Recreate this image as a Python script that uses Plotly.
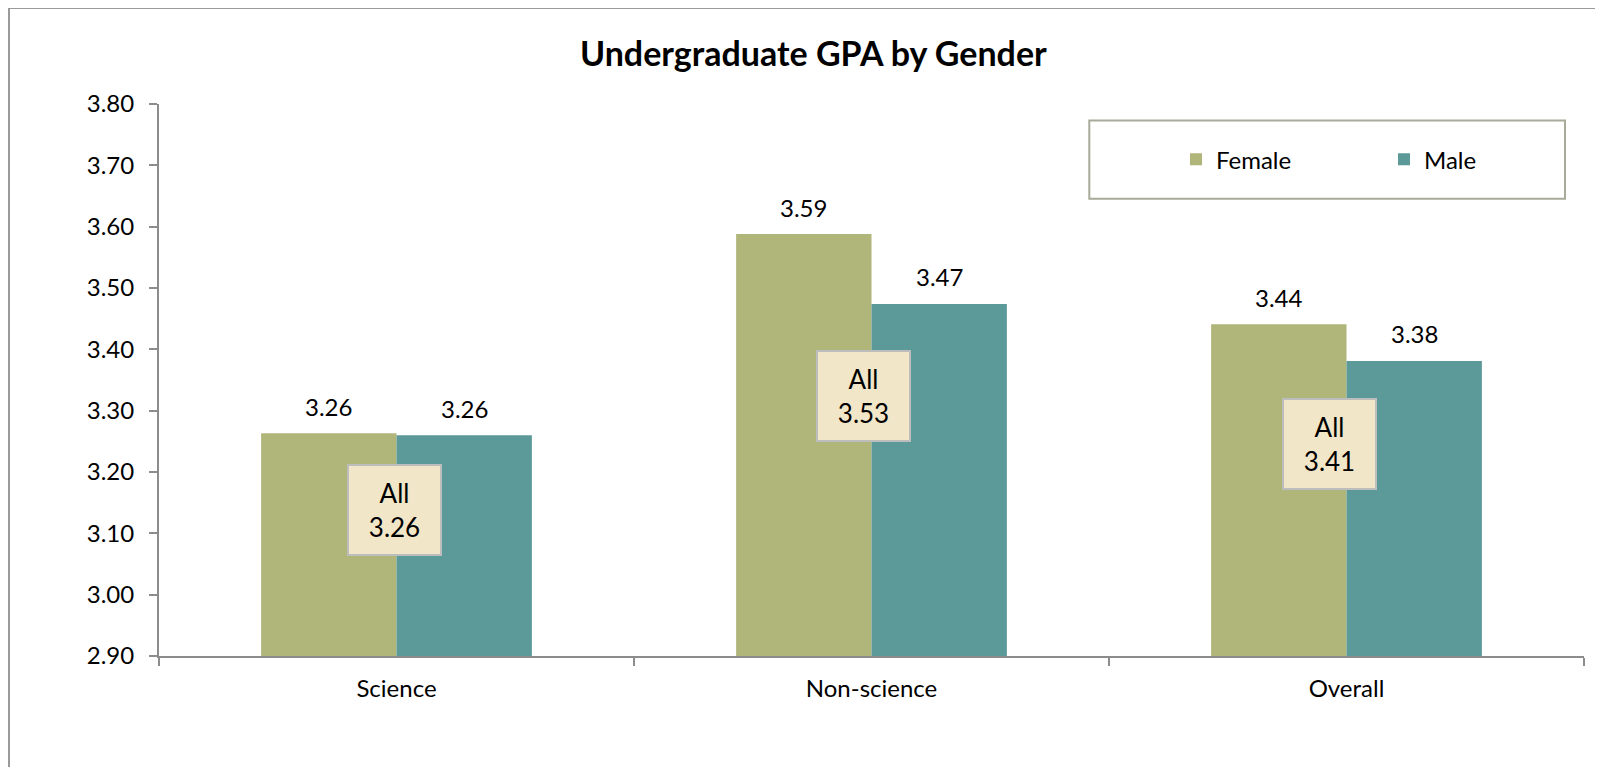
import plotly.graph_objects as go

categories = ["Science", "Non-science", "Overall"]
female = [3.263, 3.588, 3.441]
male = [3.260, 3.474, 3.381]
all_gpa = [3.26, 3.53, 3.41]
y_ticks = [2.90, 3.00, 3.10, 3.20, 3.30, 3.40, 3.50, 3.60, 3.70, 3.80]

FONT = "Lato"
C_F = "#B0B57A"
C_M = "#5C9A99"
AXIS = "#8C8C8C"
FS = 24

fig = go.Figure()
fig.add_trace(go.Bar(name="Female", x=categories, y=female, marker=dict(color=C_F, line=dict(width=0))))
fig.add_trace(go.Bar(name="Male", x=categories, y=male, marker=dict(color=C_M, line=dict(width=0))))

annotations = []
# value labels above bars
for series, xs in ((female, -68), (male, 68)):
    for c, v in zip(categories, series):
        annotations.append(dict(x=c, y=v, xref="x", yref="y", text=f"{v:.2f}", showarrow=False,
                                xshift=xs, yshift=27, yanchor="middle",
                                font=dict(family=FONT, size=FS, color="#000")))
# "All" boxes (layout positions)
box_y = [3.138, 3.324, 3.246]
box_dx = [-2.5, -8.5, -17.5]
for c, v, by, dx in zip(categories, all_gpa, box_y, box_dx):
    annotations.append(dict(x=c, y=by, xref="x", yref="y", text=f"All<br>{v:.2f}", showarrow=False,
                            xshift=dx, width=91, height=88, borderpad=0, borderwidth=2,
                            bordercolor="#BDBDBD", bgcolor="#F2E6C9", align="center", valign="middle",
                            font=dict(family=FONT, size=26, color="#000")))
annotations.append(dict(x=(813.5 - 159) / 1425, y=(655.7 - 53) / 551.4, xref="paper", yref="paper",
                        text="<b>Undergraduate GPA by Gender</b>", showarrow=False,
                        xanchor="center", yanchor="middle",
                        font=dict(family=FONT, size=34, color="#000")))

shapes = [
    # outer chart border (top & left visible)
    dict(type="rect", xref="paper", yref="paper", x0=(9 - 159) / 1425, x1=1.05, y0=-0.25, y1=(655.7 - 8.5) / 551.4,
         line=dict(color="#9A9A9A", width=2), fillcolor="rgba(0,0,0,0)", layer="below"),
    # legend box
    dict(type="rect", xref="paper", yref="paper", x0=(1089.3 - 159) / 1425, x1=(1565 - 159) / 1425,
         y0=(655.7 - 199) / 551.4, y1=(655.7 - 120.7) / 551.4,
         line=dict(color="#A8AA9A", width=2), fillcolor="white", layer="below"),
]

fig.update_layout(
    width=1595, height=759,
    margin=dict(l=151, r=19, t=96, b=111, autoexpand=False),
    paper_bgcolor="white", plot_bgcolor="white",
    barmode="group", bargap=0.43, bargroupgap=0,
    font=dict(family=FONT, size=FS, color="#000"),
    showlegend=True,
    legend=dict(orientation="h", x=(1176 - 159) / 1425, y=(655.7 - 160) / 551.4,
                xanchor="left", yanchor="middle", bgcolor="rgba(0,0,0,0)",
                entrywidth=163, entrywidthmode="pixels",
                font=dict(family=FONT, size=FS, color="#000")),
    annotations=annotations,
    shapes=shapes,
)
fig.update_yaxes(range=[2.9, 3.8], tickvals=y_ticks, ticktext=[f"{t:.2f}" for t in y_ticks],
                 showgrid=False, zeroline=False, showline=True, linecolor=AXIS, linewidth=2,
                 ticks="outside", ticklen=8, tickcolor=AXIS, tickwidth=2,
                 ticklabelstandoff=10, tickfont=dict(family=FONT, size=FS, color="#000"))
fig.update_xaxes(showgrid=False, showline=True, linecolor=AXIS, linewidth=2,
                 ticks="outside", tickson="boundaries", ticklen=8, tickcolor=AXIS, tickwidth=2,
                 ticklabelstandoff=10, tickfont=dict(family=FONT, size=FS, color="#000"))

fig.write_html("out.html")
